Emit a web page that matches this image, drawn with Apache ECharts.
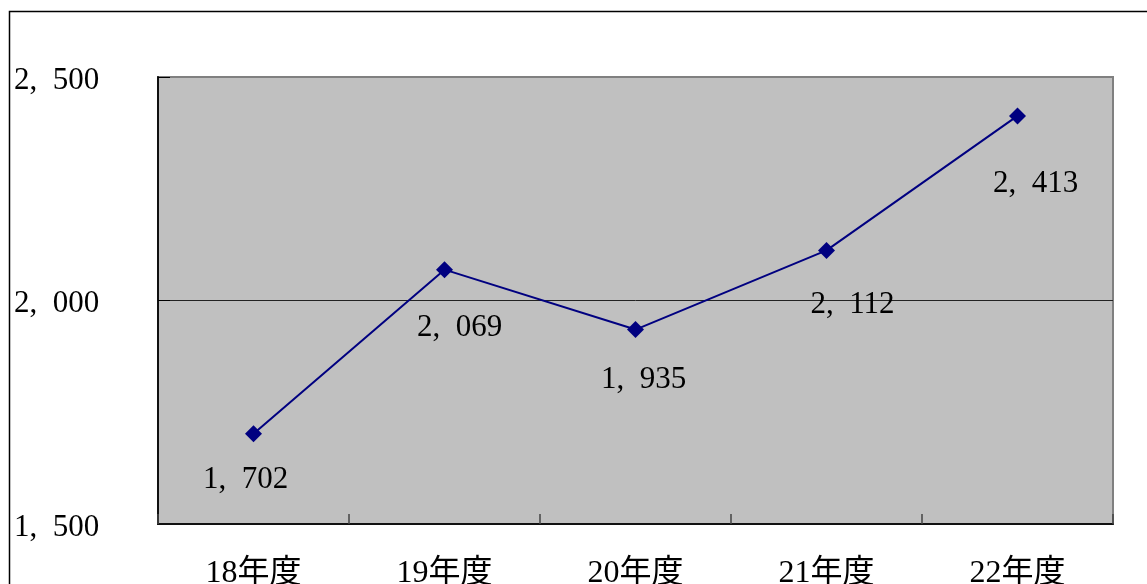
<!DOCTYPE html>
<html>
<head>
<meta charset="utf-8">
<script src="https://cdn.jsdelivr.net/npm/echarts@6/dist/echarts.min.js"></script>
<style>
  html, body { margin: 0; padding: 0; background: #fff; }
  #chart { width: 1147px; height: 584px; }
</style>
</head>
<body>
<div id="chart"></div>
<script>
const categories = ['18年度', '19年度', '20年度', '21年度', '22年度'];
const values = [1702, 2069, 1935, 2112, 2413];
// label nudges, [dx, dy] from the point
const labelOffsets = [[-8, 46], [15, 58], [8, 50], [26, 54], [18, 68]];

const FONT = '"Liberation Serif", "Noto Sans CJK JP", serif';

const fmt = (v) => {
  const s = String(v);
  return s.length > 3 ? s.slice(0, -3) + ',\u2002' + s.slice(-3) : s;
};

const chart = echarts.init(document.getElementById('chart'), null, { renderer: 'canvas' });

chart.setOption({
  animation: false,
  graphic: [
    {
      type: 'rect',
      shape: { x: 9.5, y: 11.5, width: 1300, height: 700 },
      style: { fill: 'none', stroke: '#000', lineWidth: 1.5 },
      silent: true
    }
  ],
  grid: {
    left: 158, top: 77, right: 34, bottom: 60,
    outerBoundsMode: 'none',
    containLabel: false,
    show: true,
    backgroundColor: '#c0c0c0',
    borderColor: '#808080',
    borderWidth: 2
  },
  xAxis: {
    type: 'category',
    data: categories,
    boundaryGap: true,
    z: 5,
    axisLine: { lineStyle: { color: '#111', width: 2 } },
    axisTick: { show: true, inside: true, length: 10, lineStyle: { color: '#444', width: 1.5 } },
    axisLabel: { color: '#000', fontFamily: FONT, fontSize: 32, margin: 34 }
  },
  yAxis: {
    type: 'value',
    min: 1500, max: 2500, interval: 500,
    axisLine: { show: true, lineStyle: { color: '#111', width: 2 } },
    axisTick: { show: true, inside: true, length: 12, lineStyle: { color: '#000' } },
    splitLine: { show: true, lineStyle: { color: ['#000', '#222', '#808080'], width: 1 } },
    axisLabel: {
      color: '#000', fontFamily: FONT, fontSize: 31,
      align: 'left', margin: 144,
      formatter: (v) => '{a|' + fmt(v) + '}',
      rich: { a: { fontFamily: FONT, fontSize: 31, color: '#000', padding: [7, 0, 0, 0] } }
    }
  },
  series: [
    {
      type: 'line',
      data: values.map((v, i) => ({
        value: v,
        label: { offset: labelOffsets[i] }
      })),
      symbol: 'diamond',
      symbolSize: [17, 17],
      lineStyle: { color: '#000080', width: 2 },
      itemStyle: { color: '#000080' },
      label: {
        show: true,
        position: 'inside',
        color: '#000',
        fontFamily: FONT,
        fontSize: 31,
        formatter: (p) => fmt(p.value)
      }
    }
  ]
});
</script>
</body>
</html>
